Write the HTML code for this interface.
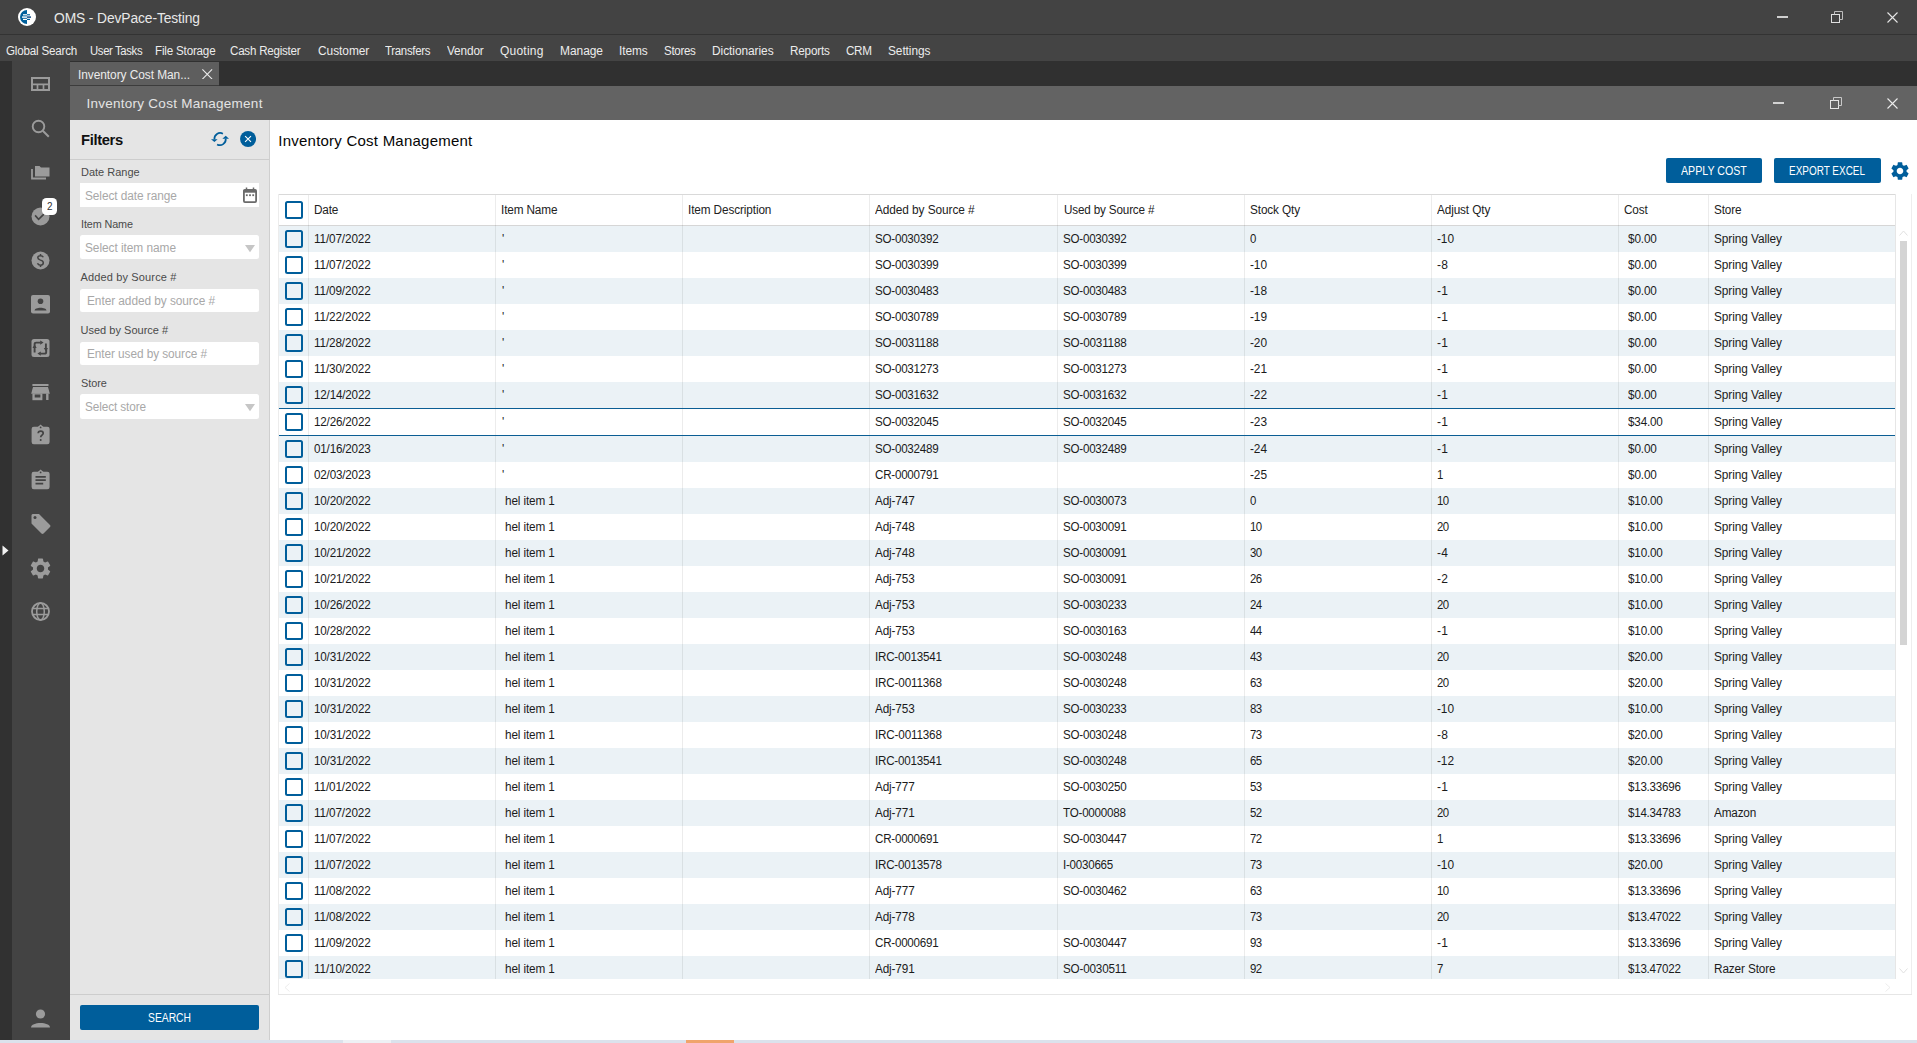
<!DOCTYPE html>
<html><head><meta charset="utf-8"><title>Inventory Cost Management</title>
<style>
html,body{margin:0;padding:0;}
body{width:1917px;height:1043px;position:relative;overflow:hidden;background:#303030;font-family:"Liberation Sans", sans-serif;}
body>div{position:absolute;box-sizing:content-box;}
.t{white-space:nowrap;font-family:"Liberation Sans", sans-serif;}
</style></head><body>
<div style="left:0px;top:0px;width:1917px;height:34px;background:#434343;"></div>
<div style="left:0px;top:34px;width:1917px;height:1px;background:#333333;"></div>
<div style="left:0px;top:35px;width:1917px;height:26px;background:#444444;"></div>
<div style="left:0px;top:61px;width:12px;height:979px;background:#313131;"></div>
<div style="left:12px;top:61px;width:58px;height:979px;background:#434343;"></div>
<div style="left:70px;top:61px;width:1847px;height:25px;background:#303030;"></div>
<div style="left:70px;top:62px;width:149px;height:23px;background:#5e5e5e;"></div>
<div style="left:70px;top:86px;width:1847px;height:34px;background:#636363;"></div>
<div style="left:70px;top:120px;width:199px;height:920px;background:#e5e5e5;"></div>
<div style="left:269px;top:120px;width:1px;height:920px;background:#cfcfcf;"></div>
<div style="left:270px;top:120px;width:1647px;height:920px;background:#ffffff;"></div>
<div style="left:0px;top:1040px;width:1917px;height:3px;background:#dbe2ec;"></div>
<div style="left:343px;top:1040px;width:48px;height:3px;background:#eef1f5;"></div>
<div style="left:686px;top:1040px;width:48px;height:3px;background:#f0a46c;"></div>
<svg style="position:absolute;left:18px;top:8px;" width="18" height="18" viewBox="0 0 18 18"><circle cx="9" cy="9" r="9" fill="#fff"/><path d="M9 2 A7 7 0 0 0 9 16 Z" fill="#00609c"/><rect x="5" y="6.2" width="4" height="1.2" fill="#fff"/><rect x="4" y="8.4" width="5" height="1.4" fill="#fff"/><rect x="5" y="10.8" width="4" height="1.2" fill="#fff"/><rect x="9" y="6.2" width="3" height="1.2" fill="#00609c"/><rect x="9" y="8.4" width="4" height="1.4" fill="#003f7f"/><rect x="9" y="10.8" width="3" height="1.2" fill="#00609c"/></svg>
<div class="t" style="left:54.00px;top:11.15px;font-size:14px;line-height:14px;color:#e8e8e8;letter-spacing:-0.105px;transform:scaleX(0.9862);transform-origin:0 0;">OMS - DevPace-Testing</div>
<div style="left:1777px;top:16px;width:11px;height:2px;background:#cfcfcf;"></div>
<svg style="position:absolute;left:1831px;top:11px;" width="13" height="12" viewBox="0 0 13 12"><rect x="0.5" y="3.5" width="8" height="8" fill="none" stroke="#e0e0e0"/><path d="M3.5 3.5 V0.5 H11.5 V8.5 H8.5" fill="none" stroke="#bdbdbd"/></svg>
<svg style="position:absolute;left:1887px;top:12px;" width="11" height="11" viewBox="0 0 11 11"><path d="M0.5 0.5 L10.5 10.5 M10.5 0.5 L0.5 10.5" stroke="#e6e6e6" stroke-width="1.1"/></svg>
<div class="t" style="left:6.30px;top:44.84px;font-size:12px;line-height:12px;color:#ececec;letter-spacing:-0.204px;transform:scaleX(0.9688);transform-origin:0 0;">Global Search</div>
<div class="t" style="left:90.10px;top:44.84px;font-size:12px;line-height:12px;color:#ececec;letter-spacing:-0.385px;transform:scaleX(0.9446);transform-origin:0 0;">User Tasks</div>
<div class="t" style="left:155.20px;top:44.84px;font-size:12px;line-height:12px;color:#ececec;letter-spacing:-0.192px;transform:scaleX(0.9683);transform-origin:0 0;">File Storage</div>
<div class="t" style="left:230.30px;top:44.84px;font-size:12px;line-height:12px;color:#ececec;letter-spacing:-0.231px;transform:scaleX(0.9648);transform-origin:0 0;">Cash Register</div>
<div class="t" style="left:317.50px;top:44.84px;font-size:12px;line-height:12px;color:#ececec;letter-spacing:-0.050px;transform:scaleX(0.9933);transform-origin:0 0;">Customer</div>
<div class="t" style="left:385.00px;top:44.84px;font-size:12px;line-height:12px;color:#ececec;letter-spacing:-0.305px;transform:scaleX(0.9537);transform-origin:0 0;">Transfers</div>
<div class="t" style="left:447.00px;top:44.84px;font-size:12px;line-height:12px;color:#ececec;letter-spacing:-0.127px;transform:scaleX(0.9836);transform-origin:0 0;">Vendor</div>
<div class="t" style="left:500.00px;top:44.84px;font-size:12px;line-height:12px;color:#ececec;letter-spacing:0.225px;transform:scaleX(1.0000);transform-origin:0 0;">Quoting</div>
<div class="t" style="left:560.20px;top:44.84px;font-size:12px;line-height:12px;color:#ececec;letter-spacing:-0.035px;transform:scaleX(0.9960);transform-origin:0 0;">Manage</div>
<div class="t" style="left:619.00px;top:44.84px;font-size:12px;line-height:12px;color:#ececec;letter-spacing:-0.069px;transform:scaleX(0.9906);transform-origin:0 0;">Items</div>
<div class="t" style="left:664.00px;top:44.84px;font-size:12px;line-height:12px;color:#ececec;letter-spacing:-0.292px;transform:scaleX(0.9597);transform-origin:0 0;">Stores</div>
<div class="t" style="left:712.10px;top:44.84px;font-size:12px;line-height:12px;color:#ececec;letter-spacing:-0.050px;transform:scaleX(0.9912);transform-origin:0 0;">Dictionaries</div>
<div class="t" style="left:790.00px;top:44.84px;font-size:12px;line-height:12px;color:#ececec;letter-spacing:-0.188px;transform:scaleX(0.9738);transform-origin:0 0;">Reports</div>
<div class="t" style="left:846.00px;top:44.84px;font-size:12px;line-height:12px;color:#ececec;letter-spacing:-0.372px;transform:scaleX(0.9735);transform-origin:0 0;">CRM</div>
<div class="t" style="left:887.60px;top:44.84px;font-size:12px;line-height:12px;color:#ececec;letter-spacing:-0.069px;transform:scaleX(0.9890);transform-origin:0 0;">Settings</div>
<div class="t" style="left:78.00px;top:69.04px;font-size:12px;line-height:12px;color:#ececec;letter-spacing:-0.052px;transform:scaleX(0.9910);transform-origin:0 0;">Inventory Cost Man...</div>
<svg style="position:absolute;left:202px;top:68.5px;" width="10.5" height="10.5" viewBox="0 0 10.5 10.5"><path d="M0.4 0.4 L10.1 10.1 M10.1 0.4 L0.4 10.1" stroke="#ececec" stroke-width="1.1"/></svg>
<div style="left:70px;top:85px;width:149px;height:1px;background:#3c3c3c;"></div>
<div class="t" style="left:86.40px;top:97.27px;font-size:13.5px;line-height:13.5px;color:#e4e4e4;letter-spacing:0.267px;transform:scaleX(1.0000);transform-origin:0 0;">Inventory Cost Management</div>
<div style="left:1773px;top:102px;width:11px;height:2px;background:#d2d2d2;"></div>
<svg style="position:absolute;left:1830px;top:97px;" width="12" height="12" viewBox="0 0 12 12"><rect x="0.5" y="3.5" width="8" height="8" fill="none" stroke="#e6e6e6"/><path d="M3.5 3.5 V0.5 H11.5 V8.5 H8.5" fill="none" stroke="#c8c8c8"/></svg>
<svg style="position:absolute;left:1887px;top:98px;" width="11" height="11" viewBox="0 0 11 11"><path d="M0.5 0.5 L10.5 10.5 M10.5 0.5 L0.5 10.5" stroke="#ececec" stroke-width="1.1"/></svg>
<svg style="position:absolute;left:31px;top:77px;" width="19" height="14" viewBox="0 0 19 14"><rect x="1" y="1" width="17" height="12" fill="none" stroke="#9b9b9b" stroke-width="2"/><path d="M1 7.3 H18 M6.5 7.3 V13 M12.5 7.3 V13" stroke="#9b9b9b" stroke-width="1.7"/></svg>
<svg style="position:absolute;left:31px;top:119px;" width="19" height="19" viewBox="0 0 19 19"><circle cx="7.5" cy="7.5" r="5.8" fill="none" stroke="#9b9b9b" stroke-width="1.9"/><path d="M11.8 11.8 L17.8 17.8" stroke="#9b9b9b" stroke-width="2"/></svg>
<svg style="position:absolute;left:31px;top:164px;" width="19" height="16" viewBox="0 0 19 16"><path d="M1 5 V14.5 H15" fill="none" stroke="#9b9b9b" stroke-width="1.8"/><path d="M4 2 H8.5 L10 3.5 H18.5 V12.5 H4 Z" fill="#9b9b9b"/></svg>
<svg style="position:absolute;left:31px;top:207px;" width="19" height="19" viewBox="0 0 19 19"><circle cx="9.5" cy="9.5" r="9" fill="#9b9b9b"/><path d="M4.1 8.4 L7.6 12.3 L12.9 7.1" fill="none" stroke="#434343" stroke-width="1.6"/></svg>
<div style="left:42px;top:198px;width:15px;height:17px;background:#fff;border-radius:4.5px;"></div>
<div class="t" style="left:46.50px;top:201.53px;font-size:10px;line-height:10px;color:#333;letter-spacing:0.000px;transform:scaleX(0.9955);transform-origin:0 0;">2</div>
<svg style="position:absolute;left:31px;top:251px;" width="19" height="19" viewBox="0 0 19 19"><circle cx="9.5" cy="9.5" r="9" fill="#9b9b9b"/><path d="M12.3 6.3 C11.8 5.2 10.8 4.7 9.5 4.7 C7.8 4.7 6.8 5.6 6.8 6.8 C6.8 8.2 8 8.6 9.5 9.1 C11.2 9.6 12.3 10.2 12.3 11.8 C12.3 13.2 11.1 14.2 9.5 14.2 C8 14.2 6.9 13.5 6.5 12.3 M9.5 3 V4.7 M9.5 14.2 V16" fill="none" stroke="#434343" stroke-width="1.5"/></svg>
<svg style="position:absolute;left:31px;top:295px;" width="19" height="19" viewBox="0 0 19 19"><rect x="0" y="0" width="19" height="18.5" rx="2" fill="#9b9b9b"/><circle cx="9.5" cy="6.3" r="2.8" fill="#434343"/><path d="M3.5 15.5 C3.8 11.8 15.2 11.8 15.5 15.5 Z" fill="#434343"/></svg>
<svg style="position:absolute;left:31px;top:339px;" width="19" height="18" viewBox="0 0 19 18"><rect x="0.5" y="0" width="18" height="18" rx="2.5" fill="#9b9b9b"/><path d="M3.6 8.6 V5.3 Q3.6 3.6 5.3 3.6 H9.6 M14.9 4.6 V9.4 M15.2 9.9 V12.9 Q15.2 14.6 13.5 14.6 H9.4 M3.6 13.4 V9" fill="none" stroke="#434343" stroke-width="1.9"/><path d="M9.2 1.5 L12.6 3.6 L9.2 5.7 Z M12.8 9.1 L14.9 12.4 L17 9.1 Z M9.8 12.5 L6.4 14.6 L9.8 16.7 Z M1.5 8.9 L3.6 5.6 L5.7 8.9 Z" fill="#434343"/></svg>
<svg style="position:absolute;left:31px;top:383px;" width="19" height="18" viewBox="0 0 19 18"><rect x="1.4" y="1" width="16.1" height="2" fill="#9b9b9b"/><path d="M2 4 H17 L18.8 10.8 H0.2 Z" fill="#9b9b9b"/><rect x="1.4" y="10.5" width="10" height="6.7" fill="#9b9b9b"/><rect x="3.7" y="11.5" width="5.7" height="3" fill="#434343"/><rect x="15.1" y="10.5" width="2.4" height="6.5" fill="#9b9b9b"/></svg>
<svg style="position:absolute;left:31px;top:424px;" width="19" height="21" viewBox="0 0 19 21"><rect x="0.6" y="2.8" width="18" height="17.5" rx="2.2" fill="#9b9b9b"/><path d="M6.5 3.2 L9.6 0.6 L12.7 3.2 Z" fill="#9b9b9b"/><circle cx="9.6" cy="3.4" r="0.9" fill="#434343"/><path d="M7.2 9.2 C7.2 6.4 12.2 6.4 12.2 9.2 C12.2 11 9.7 11.2 9.7 13.2" fill="none" stroke="#434343" stroke-width="1.7"/><circle cx="9.7" cy="15.9" r="1" fill="#434343"/></svg>
<svg style="position:absolute;left:31px;top:469px;" width="19" height="21" viewBox="0 0 19 21"><rect x="0.6" y="2.8" width="18" height="17.5" rx="2.2" fill="#9b9b9b"/><path d="M6.5 3.2 L9.6 0.6 L12.7 3.2 Z" fill="#9b9b9b"/><circle cx="9.6" cy="3.4" r="0.9" fill="#434343"/><path d="M4.5 7.8 H14.8 M4.5 11.2 H14.8 M4.5 14.6 H12.2" stroke="#434343" stroke-width="1.8"/></svg>
<svg style="position:absolute;left:30px;top:513px;" width="21" height="22" viewBox="0 0 21 22"><path d="M1.5 2.5 C1.5 1.5 2.3 1 3.2 1 H9 L20 12 C20.6 12.6 20.6 13.4 20 14 L13.5 20.5 C12.9 21.1 12.1 21.1 11.5 20.5 L1.5 10.5 Z" fill="#9b9b9b"/><circle cx="5" cy="4.5" r="1.5" fill="#434343"/></svg>
<svg style="position:absolute;left:28.1px;top:555.5px;" width="25" height="25" viewBox="0 0 24 24"><path d="M19.14 12.94c.04-.3.06-.61.06-.94 0-.32-.02-.64-.07-.94l2.03-1.58a.49.49 0 0 0 .12-.61l-1.92-3.32a.488.488 0 0 0-.59-.22l-2.39.96c-.5-.38-1.03-.7-1.62-.94l-.36-2.54a.484.484 0 0 0-.48-.41h-3.84c-.24 0-.43.17-.47.41l-.36 2.54c-.59.24-1.13.57-1.62.94l-2.39-.96c-.22-.08-.47 0-.59.22L2.74 8.87c-.12.21-.08.47.12.61l2.03 1.58c-.05.3-.09.63-.09.94s.02.64.07.94l-2.03 1.58a.49.49 0 0 0-.12.61l1.92 3.32c.12.22.37.29.59.22l2.39-.96c.5.38 1.03.7 1.62.94l.36 2.54c.05.24.24.41.48.41h3.84c.24 0 .44-.17.47-.41l.36-2.54c.59-.24 1.13-.56 1.62-.94l2.39.96c.22.08.47 0 .59-.22l1.92-3.32c.12-.22.07-.47-.12-.61l-2.01-1.58zM12 15.6c-1.98 0-3.6-1.62-3.6-3.6s1.62-3.6 3.6-3.6 3.6 1.62 3.6 3.6-1.62 3.6-3.6 3.6z" fill="#9b9b9b"/></svg>
<svg style="position:absolute;left:31px;top:602px;" width="19" height="19" viewBox="0 0 19 19"><circle cx="9.5" cy="9.5" r="8.5" fill="none" stroke="#9b9b9b" stroke-width="1.8"/><ellipse cx="9.5" cy="9.5" rx="3.8" ry="8.5" fill="none" stroke="#9b9b9b" stroke-width="1.5"/><path d="M1.5 6.5 H17.5 M1.5 12.5 H17.5" stroke="#9b9b9b" stroke-width="1.5"/></svg>
<svg style="position:absolute;left:2px;top:545px;" width="7" height="11" viewBox="0 0 7 11"><path d="M0.5 0.5 L6.5 5.5 L0.5 10.5 Z" fill="#f2f2f2"/></svg>
<svg style="position:absolute;left:31px;top:1009px;" width="19" height="19" viewBox="0 0 19 19"><circle cx="9.5" cy="5" r="4.6" fill="#9b9b9b"/><path d="M0 18.5 C0 12.5 19 12.5 19 18.5 Z" fill="#9b9b9b"/></svg>
<div class="t" style="left:80.70px;top:132.08px;font-size:15.5px;line-height:15.5px;color:#111111;letter-spacing:-0.376px;font-weight:bold;transform:scaleX(0.9538);transform-origin:0 0;">Filters</div>
<svg style="position:absolute;left:206px;top:126px;" width="26" height="26" viewBox="0 0 26 26"><path d="M16.9 7.7 A5.8 5.8 0 0 0 8.4 13.3" fill="none" stroke="#005e9b" stroke-width="1.7"/><path d="M5.0 13.2 H11.6 L8.4 16.1 Z" fill="#005e9b"/><path d="M11.1 18.4 A5.8 5.8 0 0 0 19.7 12.6" fill="none" stroke="#005e9b" stroke-width="1.7"/><path d="M16.4 12.7 H23 L19.7 9.8 Z" fill="#005e9b"/></svg>
<svg style="position:absolute;left:240px;top:131px;" width="16" height="16" viewBox="0 0 16 16"><circle cx="8.07" cy="8" r="8" fill="#005e9b"/><path d="M5.1 5.2 L11 10.9 M11 5.2 L5.1 10.9" stroke="#fff" stroke-width="1.1"/></svg>
<div style="left:70px;top:159px;width:199px;height:1px;background:#cdcdcd;"></div>
<div style="left:80px;top:183px;width:179px;height:24px;background:#fff;border-radius:0px;"></div>
<div class="t" style="left:80.50px;top:166.59px;font-size:11px;line-height:11px;color:#4a4a4a;letter-spacing:-0.006px;transform:scaleX(0.9991);transform-origin:0 0;">Date Range</div>
<div class="t" style="left:85.00px;top:189.84px;font-size:12px;line-height:12px;color:#a8a8a8;letter-spacing:-0.071px;transform:scaleX(0.9880);transform-origin:0 0;">Select date range</div>
<svg style="position:absolute;left:243px;top:187px;" width="14" height="16" viewBox="0 0 14 16"><rect x="0.9" y="2.9" width="12.2" height="12.2" rx="1" fill="none" stroke="#6a6a6a" stroke-width="1.8"/><rect x="0.9" y="2.9" width="12.2" height="2.8" fill="#6a6a6a"/><path d="M3.5 0.5 V3 M10.5 0.5 V3" stroke="#6a6a6a" stroke-width="1.5"/><rect x="2.9" y="7.3" width="1.8" height="1.8" fill="#6a6a6a"/><rect x="6.1" y="7.3" width="1.8" height="1.8" fill="#6a6a6a"/><rect x="9.3" y="7.3" width="1.8" height="1.8" fill="#6a6a6a"/></svg>
<div style="left:80px;top:235px;width:179px;height:24px;background:#fff;border-radius:2.5px;"></div>
<div class="t" style="left:80.50px;top:218.59px;font-size:11px;line-height:11px;color:#4a4a4a;letter-spacing:-0.114px;transform:scaleX(0.9833);transform-origin:0 0;">Item Name</div>
<div class="t" style="left:85.00px;top:241.84px;font-size:12px;line-height:12px;color:#a8a8a8;letter-spacing:-0.057px;transform:scaleX(0.9908);transform-origin:0 0;">Select item name</div>
<svg style="position:absolute;left:245px;top:244.8px;" width="10" height="8" viewBox="0 0 10 8"><path d="M0 0 H10 L5 7.3 Z" fill="#c6c6c6"/></svg>
<div style="left:80px;top:289px;width:179px;height:23px;background:#fff;border-radius:2.5px;"></div>
<div class="t" style="left:80.50px;top:271.89px;font-size:11px;line-height:11px;color:#4a4a4a;letter-spacing:0.147px;transform:scaleX(1.0000);transform-origin:0 0;">Added by Source #</div>
<div class="t" style="left:86.70px;top:294.84px;font-size:12px;line-height:12px;color:#a8a8a8;letter-spacing:-0.063px;transform:scaleX(0.9895);transform-origin:0 0;">Enter added by source #</div>
<div style="left:80px;top:342px;width:179px;height:23px;background:#fff;border-radius:2.5px;"></div>
<div class="t" style="left:80.50px;top:324.79px;font-size:11px;line-height:11px;color:#4a4a4a;letter-spacing:0.017px;transform:scaleX(1.0000);transform-origin:0 0;">Used by Source #</div>
<div class="t" style="left:86.70px;top:347.84px;font-size:12px;line-height:12px;color:#a8a8a8;letter-spacing:-0.080px;transform:scaleX(0.9866);transform-origin:0 0;">Enter used by source #</div>
<div style="left:80px;top:394px;width:179px;height:25px;background:#fff;border-radius:2.5px;"></div>
<div class="t" style="left:80.50px;top:377.79px;font-size:11px;line-height:11px;color:#4a4a4a;letter-spacing:-0.063px;transform:scaleX(0.9905);transform-origin:0 0;">Store</div>
<div class="t" style="left:85.00px;top:400.84px;font-size:12px;line-height:12px;color:#a8a8a8;letter-spacing:-0.104px;transform:scaleX(0.9822);transform-origin:0 0;">Select store</div>
<svg style="position:absolute;left:245px;top:404.3px;" width="10" height="8" viewBox="0 0 10 8"><path d="M0 0 H10 L5 7.3 Z" fill="#c6c6c6"/></svg>
<div style="left:70px;top:994px;width:199px;height:1px;background:#cdcdcd;"></div>
<div style="left:80px;top:1005px;width:179px;height:25px;background:#005e9b;border-radius:2px;"></div>
<div class="t" style="left:148.30px;top:1011.52px;font-size:12.5px;line-height:12.5px;color:#ffffff;letter-spacing:0.000px;transform:scaleX(0.8253);transform-origin:0 0;">SEARCH</div>
<div class="t" style="left:278.30px;top:133.10px;font-size:15px;line-height:15px;color:#050505;letter-spacing:0.231px;transform:scaleX(1.0000);transform-origin:0 0;">Inventory Cost Management</div>
<div style="left:1666px;top:158px;width:96px;height:25px;background:#005e9b;border-radius:2px;"></div>
<div class="t" style="left:1681.40px;top:164.94px;font-size:12px;line-height:12px;color:#ffffff;letter-spacing:0.000px;transform:scaleX(0.8862);transform-origin:0 0;">APPLY COST</div>
<div style="left:1774px;top:158px;width:107px;height:25px;background:#005e9b;border-radius:2px;"></div>
<div class="t" style="left:1789.40px;top:164.94px;font-size:12px;line-height:12px;color:#ffffff;letter-spacing:0.000px;transform:scaleX(0.8297);transform-origin:0 0;">EXPORT EXCEL</div>
<svg style="position:absolute;left:1889.0px;top:160.0px;" width="22" height="22" viewBox="0 0 24 24"><path d="M19.14 12.94c.04-.3.06-.61.06-.94 0-.32-.02-.64-.07-.94l2.03-1.58a.49.49 0 0 0 .12-.61l-1.92-3.32a.488.488 0 0 0-.59-.22l-2.39.96c-.5-.38-1.03-.7-1.62-.94l-.36-2.54a.484.484 0 0 0-.48-.41h-3.84c-.24 0-.43.17-.47.41l-.36 2.54c-.59.24-1.130.57-1.62.94l-2.39-.96c-.22-.08-.47 0-.59.22L2.74 8.87c-.12.21-.08.47.12.61l2.03 1.58c-.05.3-.09.63-.09.94s.02.64.07.94l-2.03 1.58a.49.49 0 0 0-.12.61l1.92 3.32c.12.22.37.29.59.22l2.39-.96c.5.38 1.03.7 1.62.94l.36 2.54c.05.24.24.41.48.41h3.84c.24 0 .44-.17.47-.41l.36-2.54c.59-.24 1.13-.56 1.62-.94l2.39.96c.22.08.47 0 .59-.22l1.92-3.32c.12-.22.07-.47-.12-.61l-2.01-1.58zM12 15.6c-1.98 0-3.6-1.62-3.6-3.6s1.62-3.6 3.6-3.6 3.6 1.62 3.6 3.6-1.62 3.6-3.6 3.6z" fill="#005e9b"/></svg>
<div style="left:279px;top:226px;width:1616px;height:26px;background:#ebf2f6;"></div>
<div style="left:279px;top:252px;width:1616px;height:26px;background:#ffffff;"></div>
<div style="left:279px;top:278px;width:1616px;height:26px;background:#ebf2f6;"></div>
<div style="left:279px;top:304px;width:1616px;height:26px;background:#ffffff;"></div>
<div style="left:279px;top:330px;width:1616px;height:26px;background:#ebf2f6;"></div>
<div style="left:279px;top:356px;width:1616px;height:26px;background:#ffffff;"></div>
<div style="left:279px;top:382px;width:1616px;height:26px;background:#ebf2f6;"></div>
<div style="left:279px;top:409px;width:1616px;height:26px;background:#ffffff;"></div>
<div style="left:279px;top:436px;width:1616px;height:26px;background:#ebf2f6;"></div>
<div style="left:279px;top:462px;width:1616px;height:26px;background:#ffffff;"></div>
<div style="left:279px;top:488px;width:1616px;height:26px;background:#ebf2f6;"></div>
<div style="left:279px;top:514px;width:1616px;height:26px;background:#ffffff;"></div>
<div style="left:279px;top:540px;width:1616px;height:26px;background:#ebf2f6;"></div>
<div style="left:279px;top:566px;width:1616px;height:26px;background:#ffffff;"></div>
<div style="left:279px;top:592px;width:1616px;height:26px;background:#ebf2f6;"></div>
<div style="left:279px;top:618px;width:1616px;height:26px;background:#ffffff;"></div>
<div style="left:279px;top:644px;width:1616px;height:26px;background:#ebf2f6;"></div>
<div style="left:279px;top:670px;width:1616px;height:26px;background:#ffffff;"></div>
<div style="left:279px;top:696px;width:1616px;height:26px;background:#ebf2f6;"></div>
<div style="left:279px;top:722px;width:1616px;height:26px;background:#ffffff;"></div>
<div style="left:279px;top:748px;width:1616px;height:26px;background:#ebf2f6;"></div>
<div style="left:279px;top:774px;width:1616px;height:26px;background:#ffffff;"></div>
<div style="left:279px;top:800px;width:1616px;height:26px;background:#ebf2f6;"></div>
<div style="left:279px;top:826px;width:1616px;height:26px;background:#ffffff;"></div>
<div style="left:279px;top:852px;width:1616px;height:26px;background:#ebf2f6;"></div>
<div style="left:279px;top:878px;width:1616px;height:26px;background:#ffffff;"></div>
<div style="left:279px;top:904px;width:1616px;height:26px;background:#ebf2f6;"></div>
<div style="left:279px;top:930px;width:1616px;height:26px;background:#ffffff;"></div>
<div style="left:279px;top:956px;width:1616px;height:23px;background:#ebf2f6;"></div>
<div style="left:278px;top:194px;width:1617px;height:1px;background:#d9d9d9;"></div>
<div style="left:278px;top:194px;width:1px;height:800px;background:#ececec;"></div>
<div style="left:1895px;top:194px;width:1px;height:785px;background:#e6e6e6;"></div>
<div style="left:1911px;top:194px;width:1px;height:800px;background:#eeeeee;"></div>
<div style="left:278px;top:994px;width:1634px;height:1px;background:#e6e6e6;"></div>
<div style="left:279px;top:225px;width:1616px;height:1px;background:#d6d6d6;"></div>
<div style="left:308px;top:195px;width:1px;height:784px;background:rgba(0,0,0,0.075);"></div>
<div style="left:495px;top:195px;width:1px;height:784px;background:rgba(0,0,0,0.075);"></div>
<div style="left:682px;top:195px;width:1px;height:784px;background:rgba(0,0,0,0.075);"></div>
<div style="left:869px;top:195px;width:1px;height:784px;background:rgba(0,0,0,0.075);"></div>
<div style="left:1057px;top:195px;width:1px;height:784px;background:rgba(0,0,0,0.075);"></div>
<div style="left:1244px;top:195px;width:1px;height:784px;background:rgba(0,0,0,0.075);"></div>
<div style="left:1431px;top:195px;width:1px;height:784px;background:rgba(0,0,0,0.075);"></div>
<div style="left:1618px;top:195px;width:1px;height:784px;background:rgba(0,0,0,0.075);"></div>
<div style="left:1708px;top:195px;width:1px;height:784px;background:rgba(0,0,0,0.075);"></div>
<div style="left:279px;top:408px;width:1616px;height:1px;background:#0b5e94;"></div>
<div style="left:279px;top:435px;width:1616px;height:1px;background:#0b5e94;"></div>
<div class="t" style="left:314.00px;top:204.24px;font-size:12px;line-height:12px;color:#222222;letter-spacing:-0.172px;transform:scaleX(0.9800);transform-origin:0 0;">Date</div>
<div class="t" style="left:501.00px;top:204.24px;font-size:12px;line-height:12px;color:#222222;letter-spacing:-0.141px;transform:scaleX(0.9811);transform-origin:0 0;">Item Name</div>
<div class="t" style="left:688.00px;top:204.24px;font-size:12px;line-height:12px;color:#222222;letter-spacing:-0.113px;transform:scaleX(0.9808);transform-origin:0 0;">Item Description</div>
<div class="t" style="left:875.20px;top:204.24px;font-size:12px;line-height:12px;color:#222222;letter-spacing:-0.079px;transform:scaleX(0.9878);transform-origin:0 0;">Added by Source #</div>
<div class="t" style="left:1063.50px;top:204.24px;font-size:12px;line-height:12px;color:#222222;letter-spacing:-0.168px;transform:scaleX(0.9743);transform-origin:0 0;">Used by Source #</div>
<div class="t" style="left:1250.00px;top:204.24px;font-size:12px;line-height:12px;color:#222222;letter-spacing:-0.124px;transform:scaleX(0.9813);transform-origin:0 0;">Stock Qty</div>
<div class="t" style="left:1437.00px;top:204.24px;font-size:12px;line-height:12px;color:#222222;letter-spacing:-0.118px;transform:scaleX(0.9812);transform-origin:0 0;">Adjust Qty</div>
<div class="t" style="left:1624.00px;top:204.24px;font-size:12px;line-height:12px;color:#222222;letter-spacing:-0.168px;transform:scaleX(0.9800);transform-origin:0 0;">Cost</div>
<div class="t" style="left:1714.00px;top:204.24px;font-size:12px;line-height:12px;color:#222222;letter-spacing:-0.146px;transform:scaleX(0.9800);transform-origin:0 0;">Store</div>
<div style="left:285px;top:201px;width:14px;height:14px;border:2px solid #005e9b;border-radius:2.5px;"></div>
<div style="left:285px;top:230px;width:14px;height:14px;border:2px solid #005e9b;border-radius:2.5px;"></div>
<div class="t" style="left:314.00px;top:232.84px;font-size:12px;line-height:12px;color:#1b1b1b;letter-spacing:-0.139px;transform:scaleX(0.9793);transform-origin:0 0;">11/07/2022</div>
<div class="t" style="left:502.00px;top:232.84px;font-size:12px;line-height:12px;color:#1b1b1b;letter-spacing:0.000px;transform:scaleX(0.9800);transform-origin:0 0;">&#x27;</div>
<div class="t" style="left:875.00px;top:232.84px;font-size:12px;line-height:12px;color:#1b1b1b;letter-spacing:-0.251px;transform:scaleX(0.9679);transform-origin:0 0;">SO-0030392</div>
<div class="t" style="left:1063.00px;top:232.84px;font-size:12px;line-height:12px;color:#1b1b1b;letter-spacing:-0.251px;transform:scaleX(0.9679);transform-origin:0 0;">SO-0030392</div>
<div class="t" style="left:1250.00px;top:232.84px;font-size:12px;line-height:12px;color:#1b1b1b;letter-spacing:0.000px;transform:scaleX(0.9500);transform-origin:0 0;">0</div>
<div class="t" style="left:1437.00px;top:232.84px;font-size:12px;line-height:12px;color:#1b1b1b;letter-spacing:-0.085px;transform:scaleX(0.9903);transform-origin:0 0;">-10</div>
<div class="t" style="left:1627.80px;top:232.84px;font-size:12px;line-height:12px;color:#1b1b1b;letter-spacing:-0.153px;transform:scaleX(0.9800);transform-origin:0 0;">$0.00</div>
<div class="t" style="left:1714.00px;top:232.84px;font-size:12px;line-height:12px;color:#1b1b1b;letter-spacing:-0.076px;transform:scaleX(0.9871);transform-origin:0 0;">Spring Valley</div>
<div style="left:285px;top:256px;width:14px;height:14px;border:2px solid #005e9b;border-radius:2.5px;"></div>
<div class="t" style="left:314.00px;top:258.84px;font-size:12px;line-height:12px;color:#1b1b1b;letter-spacing:-0.139px;transform:scaleX(0.9793);transform-origin:0 0;">11/07/2022</div>
<div class="t" style="left:502.00px;top:258.84px;font-size:12px;line-height:12px;color:#1b1b1b;letter-spacing:0.000px;transform:scaleX(0.9800);transform-origin:0 0;">&#x27;</div>
<div class="t" style="left:875.00px;top:258.84px;font-size:12px;line-height:12px;color:#1b1b1b;letter-spacing:-0.251px;transform:scaleX(0.9679);transform-origin:0 0;">SO-0030399</div>
<div class="t" style="left:1063.00px;top:258.84px;font-size:12px;line-height:12px;color:#1b1b1b;letter-spacing:-0.251px;transform:scaleX(0.9679);transform-origin:0 0;">SO-0030399</div>
<div class="t" style="left:1250.00px;top:258.84px;font-size:12px;line-height:12px;color:#1b1b1b;letter-spacing:-0.085px;transform:scaleX(0.9903);transform-origin:0 0;">-10</div>
<div class="t" style="left:1437.00px;top:258.84px;font-size:12px;line-height:12px;color:#1b1b1b;letter-spacing:0.331px;transform:scaleX(1.0000);transform-origin:0 0;">-8</div>
<div class="t" style="left:1627.80px;top:258.84px;font-size:12px;line-height:12px;color:#1b1b1b;letter-spacing:-0.153px;transform:scaleX(0.9800);transform-origin:0 0;">$0.00</div>
<div class="t" style="left:1714.00px;top:258.84px;font-size:12px;line-height:12px;color:#1b1b1b;letter-spacing:-0.076px;transform:scaleX(0.9871);transform-origin:0 0;">Spring Valley</div>
<div style="left:285px;top:282px;width:14px;height:14px;border:2px solid #005e9b;border-radius:2.5px;"></div>
<div class="t" style="left:314.00px;top:284.84px;font-size:12px;line-height:12px;color:#1b1b1b;letter-spacing:-0.139px;transform:scaleX(0.9793);transform-origin:0 0;">11/09/2022</div>
<div class="t" style="left:502.00px;top:284.84px;font-size:12px;line-height:12px;color:#1b1b1b;letter-spacing:0.000px;transform:scaleX(0.9800);transform-origin:0 0;">&#x27;</div>
<div class="t" style="left:875.00px;top:284.84px;font-size:12px;line-height:12px;color:#1b1b1b;letter-spacing:-0.251px;transform:scaleX(0.9679);transform-origin:0 0;">SO-0030483</div>
<div class="t" style="left:1063.00px;top:284.84px;font-size:12px;line-height:12px;color:#1b1b1b;letter-spacing:-0.251px;transform:scaleX(0.9679);transform-origin:0 0;">SO-0030483</div>
<div class="t" style="left:1250.00px;top:284.84px;font-size:12px;line-height:12px;color:#1b1b1b;letter-spacing:-0.085px;transform:scaleX(0.9903);transform-origin:0 0;">-18</div>
<div class="t" style="left:1437.00px;top:284.84px;font-size:12px;line-height:12px;color:#1b1b1b;letter-spacing:0.331px;transform:scaleX(1.0000);transform-origin:0 0;">-1</div>
<div class="t" style="left:1627.80px;top:284.84px;font-size:12px;line-height:12px;color:#1b1b1b;letter-spacing:-0.153px;transform:scaleX(0.9800);transform-origin:0 0;">$0.00</div>
<div class="t" style="left:1714.00px;top:284.84px;font-size:12px;line-height:12px;color:#1b1b1b;letter-spacing:-0.076px;transform:scaleX(0.9871);transform-origin:0 0;">Spring Valley</div>
<div style="left:285px;top:308px;width:14px;height:14px;border:2px solid #005e9b;border-radius:2.5px;"></div>
<div class="t" style="left:314.00px;top:310.84px;font-size:12px;line-height:12px;color:#1b1b1b;letter-spacing:-0.139px;transform:scaleX(0.9793);transform-origin:0 0;">11/22/2022</div>
<div class="t" style="left:502.00px;top:310.84px;font-size:12px;line-height:12px;color:#1b1b1b;letter-spacing:0.000px;transform:scaleX(0.9800);transform-origin:0 0;">&#x27;</div>
<div class="t" style="left:875.00px;top:310.84px;font-size:12px;line-height:12px;color:#1b1b1b;letter-spacing:-0.251px;transform:scaleX(0.9679);transform-origin:0 0;">SO-0030789</div>
<div class="t" style="left:1063.00px;top:310.84px;font-size:12px;line-height:12px;color:#1b1b1b;letter-spacing:-0.251px;transform:scaleX(0.9679);transform-origin:0 0;">SO-0030789</div>
<div class="t" style="left:1250.00px;top:310.84px;font-size:12px;line-height:12px;color:#1b1b1b;letter-spacing:-0.085px;transform:scaleX(0.9903);transform-origin:0 0;">-19</div>
<div class="t" style="left:1437.00px;top:310.84px;font-size:12px;line-height:12px;color:#1b1b1b;letter-spacing:0.331px;transform:scaleX(1.0000);transform-origin:0 0;">-1</div>
<div class="t" style="left:1627.80px;top:310.84px;font-size:12px;line-height:12px;color:#1b1b1b;letter-spacing:-0.153px;transform:scaleX(0.9800);transform-origin:0 0;">$0.00</div>
<div class="t" style="left:1714.00px;top:310.84px;font-size:12px;line-height:12px;color:#1b1b1b;letter-spacing:-0.076px;transform:scaleX(0.9871);transform-origin:0 0;">Spring Valley</div>
<div style="left:285px;top:334px;width:14px;height:14px;border:2px solid #005e9b;border-radius:2.5px;"></div>
<div class="t" style="left:314.00px;top:336.84px;font-size:12px;line-height:12px;color:#1b1b1b;letter-spacing:-0.139px;transform:scaleX(0.9793);transform-origin:0 0;">11/28/2022</div>
<div class="t" style="left:502.00px;top:336.84px;font-size:12px;line-height:12px;color:#1b1b1b;letter-spacing:0.000px;transform:scaleX(0.9800);transform-origin:0 0;">&#x27;</div>
<div class="t" style="left:875.00px;top:336.84px;font-size:12px;line-height:12px;color:#1b1b1b;letter-spacing:-0.198px;transform:scaleX(0.9741);transform-origin:0 0;">SO-0031188</div>
<div class="t" style="left:1063.00px;top:336.84px;font-size:12px;line-height:12px;color:#1b1b1b;letter-spacing:-0.198px;transform:scaleX(0.9741);transform-origin:0 0;">SO-0031188</div>
<div class="t" style="left:1250.00px;top:336.84px;font-size:12px;line-height:12px;color:#1b1b1b;letter-spacing:-0.085px;transform:scaleX(0.9903);transform-origin:0 0;">-20</div>
<div class="t" style="left:1437.00px;top:336.84px;font-size:12px;line-height:12px;color:#1b1b1b;letter-spacing:0.331px;transform:scaleX(1.0000);transform-origin:0 0;">-1</div>
<div class="t" style="left:1627.80px;top:336.84px;font-size:12px;line-height:12px;color:#1b1b1b;letter-spacing:-0.153px;transform:scaleX(0.9800);transform-origin:0 0;">$0.00</div>
<div class="t" style="left:1714.00px;top:336.84px;font-size:12px;line-height:12px;color:#1b1b1b;letter-spacing:-0.076px;transform:scaleX(0.9871);transform-origin:0 0;">Spring Valley</div>
<div style="left:285px;top:360px;width:14px;height:14px;border:2px solid #005e9b;border-radius:2.5px;"></div>
<div class="t" style="left:314.00px;top:362.84px;font-size:12px;line-height:12px;color:#1b1b1b;letter-spacing:-0.139px;transform:scaleX(0.9793);transform-origin:0 0;">11/30/2022</div>
<div class="t" style="left:502.00px;top:362.84px;font-size:12px;line-height:12px;color:#1b1b1b;letter-spacing:0.000px;transform:scaleX(0.9800);transform-origin:0 0;">&#x27;</div>
<div class="t" style="left:875.00px;top:362.84px;font-size:12px;line-height:12px;color:#1b1b1b;letter-spacing:-0.251px;transform:scaleX(0.9679);transform-origin:0 0;">SO-0031273</div>
<div class="t" style="left:1063.00px;top:362.84px;font-size:12px;line-height:12px;color:#1b1b1b;letter-spacing:-0.251px;transform:scaleX(0.9679);transform-origin:0 0;">SO-0031273</div>
<div class="t" style="left:1250.00px;top:362.84px;font-size:12px;line-height:12px;color:#1b1b1b;letter-spacing:-0.085px;transform:scaleX(0.9903);transform-origin:0 0;">-21</div>
<div class="t" style="left:1437.00px;top:362.84px;font-size:12px;line-height:12px;color:#1b1b1b;letter-spacing:0.331px;transform:scaleX(1.0000);transform-origin:0 0;">-1</div>
<div class="t" style="left:1627.80px;top:362.84px;font-size:12px;line-height:12px;color:#1b1b1b;letter-spacing:-0.153px;transform:scaleX(0.9800);transform-origin:0 0;">$0.00</div>
<div class="t" style="left:1714.00px;top:362.84px;font-size:12px;line-height:12px;color:#1b1b1b;letter-spacing:-0.076px;transform:scaleX(0.9871);transform-origin:0 0;">Spring Valley</div>
<div style="left:285px;top:386px;width:14px;height:14px;border:2px solid #005e9b;border-radius:2.5px;"></div>
<div class="t" style="left:314.00px;top:388.84px;font-size:12px;line-height:12px;color:#1b1b1b;letter-spacing:-0.191px;transform:scaleX(0.9722);transform-origin:0 0;">12/14/2022</div>
<div class="t" style="left:502.00px;top:388.84px;font-size:12px;line-height:12px;color:#1b1b1b;letter-spacing:0.000px;transform:scaleX(0.9800);transform-origin:0 0;">&#x27;</div>
<div class="t" style="left:875.00px;top:388.84px;font-size:12px;line-height:12px;color:#1b1b1b;letter-spacing:-0.251px;transform:scaleX(0.9679);transform-origin:0 0;">SO-0031632</div>
<div class="t" style="left:1063.00px;top:388.84px;font-size:12px;line-height:12px;color:#1b1b1b;letter-spacing:-0.251px;transform:scaleX(0.9679);transform-origin:0 0;">SO-0031632</div>
<div class="t" style="left:1250.00px;top:388.84px;font-size:12px;line-height:12px;color:#1b1b1b;letter-spacing:-0.085px;transform:scaleX(0.9903);transform-origin:0 0;">-22</div>
<div class="t" style="left:1437.00px;top:388.84px;font-size:12px;line-height:12px;color:#1b1b1b;letter-spacing:0.331px;transform:scaleX(1.0000);transform-origin:0 0;">-1</div>
<div class="t" style="left:1627.80px;top:388.84px;font-size:12px;line-height:12px;color:#1b1b1b;letter-spacing:-0.153px;transform:scaleX(0.9800);transform-origin:0 0;">$0.00</div>
<div class="t" style="left:1714.00px;top:388.84px;font-size:12px;line-height:12px;color:#1b1b1b;letter-spacing:-0.076px;transform:scaleX(0.9871);transform-origin:0 0;">Spring Valley</div>
<div style="left:285px;top:413px;width:14px;height:14px;border:2px solid #005e9b;border-radius:2.5px;"></div>
<div class="t" style="left:314.00px;top:415.84px;font-size:12px;line-height:12px;color:#1b1b1b;letter-spacing:-0.191px;transform:scaleX(0.9722);transform-origin:0 0;">12/26/2022</div>
<div class="t" style="left:502.00px;top:415.84px;font-size:12px;line-height:12px;color:#1b1b1b;letter-spacing:0.000px;transform:scaleX(0.9800);transform-origin:0 0;">&#x27;</div>
<div class="t" style="left:875.00px;top:415.84px;font-size:12px;line-height:12px;color:#1b1b1b;letter-spacing:-0.251px;transform:scaleX(0.9679);transform-origin:0 0;">SO-0032045</div>
<div class="t" style="left:1063.00px;top:415.84px;font-size:12px;line-height:12px;color:#1b1b1b;letter-spacing:-0.251px;transform:scaleX(0.9679);transform-origin:0 0;">SO-0032045</div>
<div class="t" style="left:1250.00px;top:415.84px;font-size:12px;line-height:12px;color:#1b1b1b;letter-spacing:-0.085px;transform:scaleX(0.9903);transform-origin:0 0;">-23</div>
<div class="t" style="left:1437.00px;top:415.84px;font-size:12px;line-height:12px;color:#1b1b1b;letter-spacing:0.331px;transform:scaleX(1.0000);transform-origin:0 0;">-1</div>
<div class="t" style="left:1627.80px;top:415.84px;font-size:12px;line-height:12px;color:#1b1b1b;letter-spacing:-0.192px;transform:scaleX(0.9745);transform-origin:0 0;">$34.00</div>
<div class="t" style="left:1714.00px;top:415.84px;font-size:12px;line-height:12px;color:#1b1b1b;letter-spacing:-0.076px;transform:scaleX(0.9871);transform-origin:0 0;">Spring Valley</div>
<div style="left:285px;top:440px;width:14px;height:14px;border:2px solid #005e9b;border-radius:2.5px;"></div>
<div class="t" style="left:314.00px;top:442.84px;font-size:12px;line-height:12px;color:#1b1b1b;letter-spacing:-0.191px;transform:scaleX(0.9722);transform-origin:0 0;">01/16/2023</div>
<div class="t" style="left:502.00px;top:442.84px;font-size:12px;line-height:12px;color:#1b1b1b;letter-spacing:0.000px;transform:scaleX(0.9800);transform-origin:0 0;">&#x27;</div>
<div class="t" style="left:875.00px;top:442.84px;font-size:12px;line-height:12px;color:#1b1b1b;letter-spacing:-0.251px;transform:scaleX(0.9679);transform-origin:0 0;">SO-0032489</div>
<div class="t" style="left:1063.00px;top:442.84px;font-size:12px;line-height:12px;color:#1b1b1b;letter-spacing:-0.251px;transform:scaleX(0.9679);transform-origin:0 0;">SO-0032489</div>
<div class="t" style="left:1250.00px;top:442.84px;font-size:12px;line-height:12px;color:#1b1b1b;letter-spacing:-0.085px;transform:scaleX(0.9903);transform-origin:0 0;">-24</div>
<div class="t" style="left:1437.00px;top:442.84px;font-size:12px;line-height:12px;color:#1b1b1b;letter-spacing:0.331px;transform:scaleX(1.0000);transform-origin:0 0;">-1</div>
<div class="t" style="left:1627.80px;top:442.84px;font-size:12px;line-height:12px;color:#1b1b1b;letter-spacing:-0.153px;transform:scaleX(0.9800);transform-origin:0 0;">$0.00</div>
<div class="t" style="left:1714.00px;top:442.84px;font-size:12px;line-height:12px;color:#1b1b1b;letter-spacing:-0.076px;transform:scaleX(0.9871);transform-origin:0 0;">Spring Valley</div>
<div style="left:285px;top:466px;width:14px;height:14px;border:2px solid #005e9b;border-radius:2.5px;"></div>
<div class="t" style="left:314.00px;top:468.84px;font-size:12px;line-height:12px;color:#1b1b1b;letter-spacing:-0.191px;transform:scaleX(0.9722);transform-origin:0 0;">02/03/2023</div>
<div class="t" style="left:502.00px;top:468.84px;font-size:12px;line-height:12px;color:#1b1b1b;letter-spacing:0.000px;transform:scaleX(0.9800);transform-origin:0 0;">&#x27;</div>
<div class="t" style="left:875.00px;top:468.84px;font-size:12px;line-height:12px;color:#1b1b1b;letter-spacing:-0.251px;transform:scaleX(0.9679);transform-origin:0 0;">CR-0000791</div>
<div class="t" style="left:1250.00px;top:468.84px;font-size:12px;line-height:12px;color:#1b1b1b;letter-spacing:-0.085px;transform:scaleX(0.9903);transform-origin:0 0;">-25</div>
<div class="t" style="left:1437.00px;top:468.84px;font-size:12px;line-height:12px;color:#1b1b1b;letter-spacing:0.000px;transform:scaleX(0.9500);transform-origin:0 0;">1</div>
<div class="t" style="left:1627.80px;top:468.84px;font-size:12px;line-height:12px;color:#1b1b1b;letter-spacing:-0.153px;transform:scaleX(0.9800);transform-origin:0 0;">$0.00</div>
<div class="t" style="left:1714.00px;top:468.84px;font-size:12px;line-height:12px;color:#1b1b1b;letter-spacing:-0.076px;transform:scaleX(0.9871);transform-origin:0 0;">Spring Valley</div>
<div style="left:285px;top:492px;width:14px;height:14px;border:2px solid #005e9b;border-radius:2.5px;"></div>
<div class="t" style="left:314.00px;top:494.84px;font-size:12px;line-height:12px;color:#1b1b1b;letter-spacing:-0.191px;transform:scaleX(0.9722);transform-origin:0 0;">10/20/2022</div>
<div class="t" style="left:504.60px;top:494.84px;font-size:12px;line-height:12px;color:#1b1b1b;letter-spacing:-0.126px;transform:scaleX(0.9787);transform-origin:0 0;">hel item 1</div>
<div class="t" style="left:875.00px;top:494.84px;font-size:12px;line-height:12px;color:#1b1b1b;letter-spacing:-0.144px;transform:scaleX(0.9795);transform-origin:0 0;">Adj-747</div>
<div class="t" style="left:1063.00px;top:494.84px;font-size:12px;line-height:12px;color:#1b1b1b;letter-spacing:-0.251px;transform:scaleX(0.9679);transform-origin:0 0;">SO-0030073</div>
<div class="t" style="left:1250.00px;top:494.84px;font-size:12px;line-height:12px;color:#1b1b1b;letter-spacing:0.000px;transform:scaleX(0.9500);transform-origin:0 0;">0</div>
<div class="t" style="left:1437.00px;top:494.84px;font-size:12px;line-height:12px;color:#1b1b1b;letter-spacing:-0.703px;transform:scaleX(0.9500);transform-origin:0 0;">10</div>
<div class="t" style="left:1627.80px;top:494.84px;font-size:12px;line-height:12px;color:#1b1b1b;letter-spacing:-0.192px;transform:scaleX(0.9745);transform-origin:0 0;">$10.00</div>
<div class="t" style="left:1714.00px;top:494.84px;font-size:12px;line-height:12px;color:#1b1b1b;letter-spacing:-0.076px;transform:scaleX(0.9871);transform-origin:0 0;">Spring Valley</div>
<div style="left:285px;top:518px;width:14px;height:14px;border:2px solid #005e9b;border-radius:2.5px;"></div>
<div class="t" style="left:314.00px;top:520.84px;font-size:12px;line-height:12px;color:#1b1b1b;letter-spacing:-0.191px;transform:scaleX(0.9722);transform-origin:0 0;">10/20/2022</div>
<div class="t" style="left:504.60px;top:520.84px;font-size:12px;line-height:12px;color:#1b1b1b;letter-spacing:-0.126px;transform:scaleX(0.9787);transform-origin:0 0;">hel item 1</div>
<div class="t" style="left:875.00px;top:520.84px;font-size:12px;line-height:12px;color:#1b1b1b;letter-spacing:-0.144px;transform:scaleX(0.9795);transform-origin:0 0;">Adj-748</div>
<div class="t" style="left:1063.00px;top:520.84px;font-size:12px;line-height:12px;color:#1b1b1b;letter-spacing:-0.251px;transform:scaleX(0.9679);transform-origin:0 0;">SO-0030091</div>
<div class="t" style="left:1250.00px;top:520.84px;font-size:12px;line-height:12px;color:#1b1b1b;letter-spacing:-0.703px;transform:scaleX(0.9500);transform-origin:0 0;">10</div>
<div class="t" style="left:1437.00px;top:520.84px;font-size:12px;line-height:12px;color:#1b1b1b;letter-spacing:-0.703px;transform:scaleX(0.9500);transform-origin:0 0;">20</div>
<div class="t" style="left:1627.80px;top:520.84px;font-size:12px;line-height:12px;color:#1b1b1b;letter-spacing:-0.192px;transform:scaleX(0.9745);transform-origin:0 0;">$10.00</div>
<div class="t" style="left:1714.00px;top:520.84px;font-size:12px;line-height:12px;color:#1b1b1b;letter-spacing:-0.076px;transform:scaleX(0.9871);transform-origin:0 0;">Spring Valley</div>
<div style="left:285px;top:544px;width:14px;height:14px;border:2px solid #005e9b;border-radius:2.5px;"></div>
<div class="t" style="left:314.00px;top:546.84px;font-size:12px;line-height:12px;color:#1b1b1b;letter-spacing:-0.191px;transform:scaleX(0.9722);transform-origin:0 0;">10/21/2022</div>
<div class="t" style="left:504.60px;top:546.84px;font-size:12px;line-height:12px;color:#1b1b1b;letter-spacing:-0.126px;transform:scaleX(0.9787);transform-origin:0 0;">hel item 1</div>
<div class="t" style="left:875.00px;top:546.84px;font-size:12px;line-height:12px;color:#1b1b1b;letter-spacing:-0.144px;transform:scaleX(0.9795);transform-origin:0 0;">Adj-748</div>
<div class="t" style="left:1063.00px;top:546.84px;font-size:12px;line-height:12px;color:#1b1b1b;letter-spacing:-0.251px;transform:scaleX(0.9679);transform-origin:0 0;">SO-0030091</div>
<div class="t" style="left:1250.00px;top:546.84px;font-size:12px;line-height:12px;color:#1b1b1b;letter-spacing:-0.703px;transform:scaleX(0.9500);transform-origin:0 0;">30</div>
<div class="t" style="left:1437.00px;top:546.84px;font-size:12px;line-height:12px;color:#1b1b1b;letter-spacing:0.331px;transform:scaleX(1.0000);transform-origin:0 0;">-4</div>
<div class="t" style="left:1627.80px;top:546.84px;font-size:12px;line-height:12px;color:#1b1b1b;letter-spacing:-0.192px;transform:scaleX(0.9745);transform-origin:0 0;">$10.00</div>
<div class="t" style="left:1714.00px;top:546.84px;font-size:12px;line-height:12px;color:#1b1b1b;letter-spacing:-0.076px;transform:scaleX(0.9871);transform-origin:0 0;">Spring Valley</div>
<div style="left:285px;top:570px;width:14px;height:14px;border:2px solid #005e9b;border-radius:2.5px;"></div>
<div class="t" style="left:314.00px;top:572.84px;font-size:12px;line-height:12px;color:#1b1b1b;letter-spacing:-0.191px;transform:scaleX(0.9722);transform-origin:0 0;">10/21/2022</div>
<div class="t" style="left:504.60px;top:572.84px;font-size:12px;line-height:12px;color:#1b1b1b;letter-spacing:-0.126px;transform:scaleX(0.9787);transform-origin:0 0;">hel item 1</div>
<div class="t" style="left:875.00px;top:572.84px;font-size:12px;line-height:12px;color:#1b1b1b;letter-spacing:-0.144px;transform:scaleX(0.9795);transform-origin:0 0;">Adj-753</div>
<div class="t" style="left:1063.00px;top:572.84px;font-size:12px;line-height:12px;color:#1b1b1b;letter-spacing:-0.251px;transform:scaleX(0.9679);transform-origin:0 0;">SO-0030091</div>
<div class="t" style="left:1250.00px;top:572.84px;font-size:12px;line-height:12px;color:#1b1b1b;letter-spacing:-0.703px;transform:scaleX(0.9500);transform-origin:0 0;">26</div>
<div class="t" style="left:1437.00px;top:572.84px;font-size:12px;line-height:12px;color:#1b1b1b;letter-spacing:0.331px;transform:scaleX(1.0000);transform-origin:0 0;">-2</div>
<div class="t" style="left:1627.80px;top:572.84px;font-size:12px;line-height:12px;color:#1b1b1b;letter-spacing:-0.192px;transform:scaleX(0.9745);transform-origin:0 0;">$10.00</div>
<div class="t" style="left:1714.00px;top:572.84px;font-size:12px;line-height:12px;color:#1b1b1b;letter-spacing:-0.076px;transform:scaleX(0.9871);transform-origin:0 0;">Spring Valley</div>
<div style="left:285px;top:596px;width:14px;height:14px;border:2px solid #005e9b;border-radius:2.5px;"></div>
<div class="t" style="left:314.00px;top:598.84px;font-size:12px;line-height:12px;color:#1b1b1b;letter-spacing:-0.191px;transform:scaleX(0.9722);transform-origin:0 0;">10/26/2022</div>
<div class="t" style="left:504.60px;top:598.84px;font-size:12px;line-height:12px;color:#1b1b1b;letter-spacing:-0.126px;transform:scaleX(0.9787);transform-origin:0 0;">hel item 1</div>
<div class="t" style="left:875.00px;top:598.84px;font-size:12px;line-height:12px;color:#1b1b1b;letter-spacing:-0.144px;transform:scaleX(0.9795);transform-origin:0 0;">Adj-753</div>
<div class="t" style="left:1063.00px;top:598.84px;font-size:12px;line-height:12px;color:#1b1b1b;letter-spacing:-0.251px;transform:scaleX(0.9679);transform-origin:0 0;">SO-0030233</div>
<div class="t" style="left:1250.00px;top:598.84px;font-size:12px;line-height:12px;color:#1b1b1b;letter-spacing:-0.703px;transform:scaleX(0.9500);transform-origin:0 0;">24</div>
<div class="t" style="left:1437.00px;top:598.84px;font-size:12px;line-height:12px;color:#1b1b1b;letter-spacing:-0.703px;transform:scaleX(0.9500);transform-origin:0 0;">20</div>
<div class="t" style="left:1627.80px;top:598.84px;font-size:12px;line-height:12px;color:#1b1b1b;letter-spacing:-0.192px;transform:scaleX(0.9745);transform-origin:0 0;">$10.00</div>
<div class="t" style="left:1714.00px;top:598.84px;font-size:12px;line-height:12px;color:#1b1b1b;letter-spacing:-0.076px;transform:scaleX(0.9871);transform-origin:0 0;">Spring Valley</div>
<div style="left:285px;top:622px;width:14px;height:14px;border:2px solid #005e9b;border-radius:2.5px;"></div>
<div class="t" style="left:314.00px;top:624.84px;font-size:12px;line-height:12px;color:#1b1b1b;letter-spacing:-0.191px;transform:scaleX(0.9722);transform-origin:0 0;">10/28/2022</div>
<div class="t" style="left:504.60px;top:624.84px;font-size:12px;line-height:12px;color:#1b1b1b;letter-spacing:-0.126px;transform:scaleX(0.9787);transform-origin:0 0;">hel item 1</div>
<div class="t" style="left:875.00px;top:624.84px;font-size:12px;line-height:12px;color:#1b1b1b;letter-spacing:-0.144px;transform:scaleX(0.9795);transform-origin:0 0;">Adj-753</div>
<div class="t" style="left:1063.00px;top:624.84px;font-size:12px;line-height:12px;color:#1b1b1b;letter-spacing:-0.251px;transform:scaleX(0.9679);transform-origin:0 0;">SO-0030163</div>
<div class="t" style="left:1250.00px;top:624.84px;font-size:12px;line-height:12px;color:#1b1b1b;letter-spacing:-0.703px;transform:scaleX(0.9500);transform-origin:0 0;">44</div>
<div class="t" style="left:1437.00px;top:624.84px;font-size:12px;line-height:12px;color:#1b1b1b;letter-spacing:0.331px;transform:scaleX(1.0000);transform-origin:0 0;">-1</div>
<div class="t" style="left:1627.80px;top:624.84px;font-size:12px;line-height:12px;color:#1b1b1b;letter-spacing:-0.192px;transform:scaleX(0.9745);transform-origin:0 0;">$10.00</div>
<div class="t" style="left:1714.00px;top:624.84px;font-size:12px;line-height:12px;color:#1b1b1b;letter-spacing:-0.076px;transform:scaleX(0.9871);transform-origin:0 0;">Spring Valley</div>
<div style="left:285px;top:648px;width:14px;height:14px;border:2px solid #005e9b;border-radius:2.5px;"></div>
<div class="t" style="left:314.00px;top:650.84px;font-size:12px;line-height:12px;color:#1b1b1b;letter-spacing:-0.191px;transform:scaleX(0.9722);transform-origin:0 0;">10/31/2022</div>
<div class="t" style="left:504.60px;top:650.84px;font-size:12px;line-height:12px;color:#1b1b1b;letter-spacing:-0.126px;transform:scaleX(0.9787);transform-origin:0 0;">hel item 1</div>
<div class="t" style="left:875.00px;top:650.84px;font-size:12px;line-height:12px;color:#1b1b1b;letter-spacing:-0.232px;transform:scaleX(0.9685);transform-origin:0 0;">IRC-0013541</div>
<div class="t" style="left:1063.00px;top:650.84px;font-size:12px;line-height:12px;color:#1b1b1b;letter-spacing:-0.251px;transform:scaleX(0.9679);transform-origin:0 0;">SO-0030248</div>
<div class="t" style="left:1250.00px;top:650.84px;font-size:12px;line-height:12px;color:#1b1b1b;letter-spacing:-0.703px;transform:scaleX(0.9500);transform-origin:0 0;">43</div>
<div class="t" style="left:1437.00px;top:650.84px;font-size:12px;line-height:12px;color:#1b1b1b;letter-spacing:-0.703px;transform:scaleX(0.9500);transform-origin:0 0;">20</div>
<div class="t" style="left:1627.80px;top:650.84px;font-size:12px;line-height:12px;color:#1b1b1b;letter-spacing:-0.192px;transform:scaleX(0.9745);transform-origin:0 0;">$20.00</div>
<div class="t" style="left:1714.00px;top:650.84px;font-size:12px;line-height:12px;color:#1b1b1b;letter-spacing:-0.076px;transform:scaleX(0.9871);transform-origin:0 0;">Spring Valley</div>
<div style="left:285px;top:674px;width:14px;height:14px;border:2px solid #005e9b;border-radius:2.5px;"></div>
<div class="t" style="left:314.00px;top:676.84px;font-size:12px;line-height:12px;color:#1b1b1b;letter-spacing:-0.191px;transform:scaleX(0.9722);transform-origin:0 0;">10/31/2022</div>
<div class="t" style="left:504.60px;top:676.84px;font-size:12px;line-height:12px;color:#1b1b1b;letter-spacing:-0.126px;transform:scaleX(0.9787);transform-origin:0 0;">hel item 1</div>
<div class="t" style="left:875.00px;top:676.84px;font-size:12px;line-height:12px;color:#1b1b1b;letter-spacing:-0.185px;transform:scaleX(0.9744);transform-origin:0 0;">IRC-0011368</div>
<div class="t" style="left:1063.00px;top:676.84px;font-size:12px;line-height:12px;color:#1b1b1b;letter-spacing:-0.251px;transform:scaleX(0.9679);transform-origin:0 0;">SO-0030248</div>
<div class="t" style="left:1250.00px;top:676.84px;font-size:12px;line-height:12px;color:#1b1b1b;letter-spacing:-0.703px;transform:scaleX(0.9500);transform-origin:0 0;">63</div>
<div class="t" style="left:1437.00px;top:676.84px;font-size:12px;line-height:12px;color:#1b1b1b;letter-spacing:-0.703px;transform:scaleX(0.9500);transform-origin:0 0;">20</div>
<div class="t" style="left:1627.80px;top:676.84px;font-size:12px;line-height:12px;color:#1b1b1b;letter-spacing:-0.192px;transform:scaleX(0.9745);transform-origin:0 0;">$20.00</div>
<div class="t" style="left:1714.00px;top:676.84px;font-size:12px;line-height:12px;color:#1b1b1b;letter-spacing:-0.076px;transform:scaleX(0.9871);transform-origin:0 0;">Spring Valley</div>
<div style="left:285px;top:700px;width:14px;height:14px;border:2px solid #005e9b;border-radius:2.5px;"></div>
<div class="t" style="left:314.00px;top:702.84px;font-size:12px;line-height:12px;color:#1b1b1b;letter-spacing:-0.191px;transform:scaleX(0.9722);transform-origin:0 0;">10/31/2022</div>
<div class="t" style="left:504.60px;top:702.84px;font-size:12px;line-height:12px;color:#1b1b1b;letter-spacing:-0.126px;transform:scaleX(0.9787);transform-origin:0 0;">hel item 1</div>
<div class="t" style="left:875.00px;top:702.84px;font-size:12px;line-height:12px;color:#1b1b1b;letter-spacing:-0.144px;transform:scaleX(0.9795);transform-origin:0 0;">Adj-753</div>
<div class="t" style="left:1063.00px;top:702.84px;font-size:12px;line-height:12px;color:#1b1b1b;letter-spacing:-0.251px;transform:scaleX(0.9679);transform-origin:0 0;">SO-0030233</div>
<div class="t" style="left:1250.00px;top:702.84px;font-size:12px;line-height:12px;color:#1b1b1b;letter-spacing:-0.703px;transform:scaleX(0.9500);transform-origin:0 0;">83</div>
<div class="t" style="left:1437.00px;top:702.84px;font-size:12px;line-height:12px;color:#1b1b1b;letter-spacing:-0.085px;transform:scaleX(0.9903);transform-origin:0 0;">-10</div>
<div class="t" style="left:1627.80px;top:702.84px;font-size:12px;line-height:12px;color:#1b1b1b;letter-spacing:-0.192px;transform:scaleX(0.9745);transform-origin:0 0;">$10.00</div>
<div class="t" style="left:1714.00px;top:702.84px;font-size:12px;line-height:12px;color:#1b1b1b;letter-spacing:-0.076px;transform:scaleX(0.9871);transform-origin:0 0;">Spring Valley</div>
<div style="left:285px;top:726px;width:14px;height:14px;border:2px solid #005e9b;border-radius:2.5px;"></div>
<div class="t" style="left:314.00px;top:728.84px;font-size:12px;line-height:12px;color:#1b1b1b;letter-spacing:-0.191px;transform:scaleX(0.9722);transform-origin:0 0;">10/31/2022</div>
<div class="t" style="left:504.60px;top:728.84px;font-size:12px;line-height:12px;color:#1b1b1b;letter-spacing:-0.126px;transform:scaleX(0.9787);transform-origin:0 0;">hel item 1</div>
<div class="t" style="left:875.00px;top:728.84px;font-size:12px;line-height:12px;color:#1b1b1b;letter-spacing:-0.185px;transform:scaleX(0.9744);transform-origin:0 0;">IRC-0011368</div>
<div class="t" style="left:1063.00px;top:728.84px;font-size:12px;line-height:12px;color:#1b1b1b;letter-spacing:-0.251px;transform:scaleX(0.9679);transform-origin:0 0;">SO-0030248</div>
<div class="t" style="left:1250.00px;top:728.84px;font-size:12px;line-height:12px;color:#1b1b1b;letter-spacing:-0.703px;transform:scaleX(0.9500);transform-origin:0 0;">73</div>
<div class="t" style="left:1437.00px;top:728.84px;font-size:12px;line-height:12px;color:#1b1b1b;letter-spacing:0.331px;transform:scaleX(1.0000);transform-origin:0 0;">-8</div>
<div class="t" style="left:1627.80px;top:728.84px;font-size:12px;line-height:12px;color:#1b1b1b;letter-spacing:-0.192px;transform:scaleX(0.9745);transform-origin:0 0;">$20.00</div>
<div class="t" style="left:1714.00px;top:728.84px;font-size:12px;line-height:12px;color:#1b1b1b;letter-spacing:-0.076px;transform:scaleX(0.9871);transform-origin:0 0;">Spring Valley</div>
<div style="left:285px;top:752px;width:14px;height:14px;border:2px solid #005e9b;border-radius:2.5px;"></div>
<div class="t" style="left:314.00px;top:754.84px;font-size:12px;line-height:12px;color:#1b1b1b;letter-spacing:-0.191px;transform:scaleX(0.9722);transform-origin:0 0;">10/31/2022</div>
<div class="t" style="left:504.60px;top:754.84px;font-size:12px;line-height:12px;color:#1b1b1b;letter-spacing:-0.126px;transform:scaleX(0.9787);transform-origin:0 0;">hel item 1</div>
<div class="t" style="left:875.00px;top:754.84px;font-size:12px;line-height:12px;color:#1b1b1b;letter-spacing:-0.232px;transform:scaleX(0.9685);transform-origin:0 0;">IRC-0013541</div>
<div class="t" style="left:1063.00px;top:754.84px;font-size:12px;line-height:12px;color:#1b1b1b;letter-spacing:-0.251px;transform:scaleX(0.9679);transform-origin:0 0;">SO-0030248</div>
<div class="t" style="left:1250.00px;top:754.84px;font-size:12px;line-height:12px;color:#1b1b1b;letter-spacing:-0.703px;transform:scaleX(0.9500);transform-origin:0 0;">65</div>
<div class="t" style="left:1437.00px;top:754.84px;font-size:12px;line-height:12px;color:#1b1b1b;letter-spacing:-0.085px;transform:scaleX(0.9903);transform-origin:0 0;">-12</div>
<div class="t" style="left:1627.80px;top:754.84px;font-size:12px;line-height:12px;color:#1b1b1b;letter-spacing:-0.192px;transform:scaleX(0.9745);transform-origin:0 0;">$20.00</div>
<div class="t" style="left:1714.00px;top:754.84px;font-size:12px;line-height:12px;color:#1b1b1b;letter-spacing:-0.076px;transform:scaleX(0.9871);transform-origin:0 0;">Spring Valley</div>
<div style="left:285px;top:778px;width:14px;height:14px;border:2px solid #005e9b;border-radius:2.5px;"></div>
<div class="t" style="left:314.00px;top:780.84px;font-size:12px;line-height:12px;color:#1b1b1b;letter-spacing:-0.139px;transform:scaleX(0.9793);transform-origin:0 0;">11/01/2022</div>
<div class="t" style="left:504.60px;top:780.84px;font-size:12px;line-height:12px;color:#1b1b1b;letter-spacing:-0.126px;transform:scaleX(0.9787);transform-origin:0 0;">hel item 1</div>
<div class="t" style="left:875.00px;top:780.84px;font-size:12px;line-height:12px;color:#1b1b1b;letter-spacing:-0.144px;transform:scaleX(0.9795);transform-origin:0 0;">Adj-777</div>
<div class="t" style="left:1063.00px;top:780.84px;font-size:12px;line-height:12px;color:#1b1b1b;letter-spacing:-0.251px;transform:scaleX(0.9679);transform-origin:0 0;">SO-0030250</div>
<div class="t" style="left:1250.00px;top:780.84px;font-size:12px;line-height:12px;color:#1b1b1b;letter-spacing:-0.703px;transform:scaleX(0.9500);transform-origin:0 0;">53</div>
<div class="t" style="left:1437.00px;top:780.84px;font-size:12px;line-height:12px;color:#1b1b1b;letter-spacing:0.331px;transform:scaleX(1.0000);transform-origin:0 0;">-1</div>
<div class="t" style="left:1627.80px;top:780.84px;font-size:12px;line-height:12px;color:#1b1b1b;letter-spacing:-0.251px;transform:scaleX(0.9659);transform-origin:0 0;">$13.33696</div>
<div class="t" style="left:1714.00px;top:780.84px;font-size:12px;line-height:12px;color:#1b1b1b;letter-spacing:-0.076px;transform:scaleX(0.9871);transform-origin:0 0;">Spring Valley</div>
<div style="left:285px;top:804px;width:14px;height:14px;border:2px solid #005e9b;border-radius:2.5px;"></div>
<div class="t" style="left:314.00px;top:806.84px;font-size:12px;line-height:12px;color:#1b1b1b;letter-spacing:-0.139px;transform:scaleX(0.9793);transform-origin:0 0;">11/07/2022</div>
<div class="t" style="left:504.60px;top:806.84px;font-size:12px;line-height:12px;color:#1b1b1b;letter-spacing:-0.126px;transform:scaleX(0.9787);transform-origin:0 0;">hel item 1</div>
<div class="t" style="left:875.00px;top:806.84px;font-size:12px;line-height:12px;color:#1b1b1b;letter-spacing:-0.144px;transform:scaleX(0.9795);transform-origin:0 0;">Adj-771</div>
<div class="t" style="left:1063.00px;top:806.84px;font-size:12px;line-height:12px;color:#1b1b1b;letter-spacing:-0.236px;transform:scaleX(0.9693);transform-origin:0 0;">TO-0000088</div>
<div class="t" style="left:1250.00px;top:806.84px;font-size:12px;line-height:12px;color:#1b1b1b;letter-spacing:-0.703px;transform:scaleX(0.9500);transform-origin:0 0;">52</div>
<div class="t" style="left:1437.00px;top:806.84px;font-size:12px;line-height:12px;color:#1b1b1b;letter-spacing:-0.703px;transform:scaleX(0.9500);transform-origin:0 0;">20</div>
<div class="t" style="left:1627.80px;top:806.84px;font-size:12px;line-height:12px;color:#1b1b1b;letter-spacing:-0.251px;transform:scaleX(0.9659);transform-origin:0 0;">$14.34783</div>
<div class="t" style="left:1714.00px;top:806.84px;font-size:12px;line-height:12px;color:#1b1b1b;letter-spacing:-0.180px;transform:scaleX(0.9800);transform-origin:0 0;">Amazon</div>
<div style="left:285px;top:830px;width:14px;height:14px;border:2px solid #005e9b;border-radius:2.5px;"></div>
<div class="t" style="left:314.00px;top:832.84px;font-size:12px;line-height:12px;color:#1b1b1b;letter-spacing:-0.139px;transform:scaleX(0.9793);transform-origin:0 0;">11/07/2022</div>
<div class="t" style="left:504.60px;top:832.84px;font-size:12px;line-height:12px;color:#1b1b1b;letter-spacing:-0.126px;transform:scaleX(0.9787);transform-origin:0 0;">hel item 1</div>
<div class="t" style="left:875.00px;top:832.84px;font-size:12px;line-height:12px;color:#1b1b1b;letter-spacing:-0.251px;transform:scaleX(0.9679);transform-origin:0 0;">CR-0000691</div>
<div class="t" style="left:1063.00px;top:832.84px;font-size:12px;line-height:12px;color:#1b1b1b;letter-spacing:-0.251px;transform:scaleX(0.9679);transform-origin:0 0;">SO-0030447</div>
<div class="t" style="left:1250.00px;top:832.84px;font-size:12px;line-height:12px;color:#1b1b1b;letter-spacing:-0.703px;transform:scaleX(0.9500);transform-origin:0 0;">72</div>
<div class="t" style="left:1437.00px;top:832.84px;font-size:12px;line-height:12px;color:#1b1b1b;letter-spacing:0.000px;transform:scaleX(0.9500);transform-origin:0 0;">1</div>
<div class="t" style="left:1627.80px;top:832.84px;font-size:12px;line-height:12px;color:#1b1b1b;letter-spacing:-0.251px;transform:scaleX(0.9659);transform-origin:0 0;">$13.33696</div>
<div class="t" style="left:1714.00px;top:832.84px;font-size:12px;line-height:12px;color:#1b1b1b;letter-spacing:-0.076px;transform:scaleX(0.9871);transform-origin:0 0;">Spring Valley</div>
<div style="left:285px;top:856px;width:14px;height:14px;border:2px solid #005e9b;border-radius:2.5px;"></div>
<div class="t" style="left:314.00px;top:858.84px;font-size:12px;line-height:12px;color:#1b1b1b;letter-spacing:-0.139px;transform:scaleX(0.9793);transform-origin:0 0;">11/07/2022</div>
<div class="t" style="left:504.60px;top:858.84px;font-size:12px;line-height:12px;color:#1b1b1b;letter-spacing:-0.126px;transform:scaleX(0.9787);transform-origin:0 0;">hel item 1</div>
<div class="t" style="left:875.00px;top:858.84px;font-size:12px;line-height:12px;color:#1b1b1b;letter-spacing:-0.232px;transform:scaleX(0.9685);transform-origin:0 0;">IRC-0013578</div>
<div class="t" style="left:1063.00px;top:858.84px;font-size:12px;line-height:12px;color:#1b1b1b;letter-spacing:-0.247px;transform:scaleX(0.9648);transform-origin:0 0;">I-0030665</div>
<div class="t" style="left:1250.00px;top:858.84px;font-size:12px;line-height:12px;color:#1b1b1b;letter-spacing:-0.703px;transform:scaleX(0.9500);transform-origin:0 0;">73</div>
<div class="t" style="left:1437.00px;top:858.84px;font-size:12px;line-height:12px;color:#1b1b1b;letter-spacing:-0.085px;transform:scaleX(0.9903);transform-origin:0 0;">-10</div>
<div class="t" style="left:1627.80px;top:858.84px;font-size:12px;line-height:12px;color:#1b1b1b;letter-spacing:-0.192px;transform:scaleX(0.9745);transform-origin:0 0;">$20.00</div>
<div class="t" style="left:1714.00px;top:858.84px;font-size:12px;line-height:12px;color:#1b1b1b;letter-spacing:-0.076px;transform:scaleX(0.9871);transform-origin:0 0;">Spring Valley</div>
<div style="left:285px;top:882px;width:14px;height:14px;border:2px solid #005e9b;border-radius:2.5px;"></div>
<div class="t" style="left:314.00px;top:884.84px;font-size:12px;line-height:12px;color:#1b1b1b;letter-spacing:-0.139px;transform:scaleX(0.9793);transform-origin:0 0;">11/08/2022</div>
<div class="t" style="left:504.60px;top:884.84px;font-size:12px;line-height:12px;color:#1b1b1b;letter-spacing:-0.126px;transform:scaleX(0.9787);transform-origin:0 0;">hel item 1</div>
<div class="t" style="left:875.00px;top:884.84px;font-size:12px;line-height:12px;color:#1b1b1b;letter-spacing:-0.144px;transform:scaleX(0.9795);transform-origin:0 0;">Adj-777</div>
<div class="t" style="left:1063.00px;top:884.84px;font-size:12px;line-height:12px;color:#1b1b1b;letter-spacing:-0.251px;transform:scaleX(0.9679);transform-origin:0 0;">SO-0030462</div>
<div class="t" style="left:1250.00px;top:884.84px;font-size:12px;line-height:12px;color:#1b1b1b;letter-spacing:-0.703px;transform:scaleX(0.9500);transform-origin:0 0;">63</div>
<div class="t" style="left:1437.00px;top:884.84px;font-size:12px;line-height:12px;color:#1b1b1b;letter-spacing:-0.703px;transform:scaleX(0.9500);transform-origin:0 0;">10</div>
<div class="t" style="left:1627.80px;top:884.84px;font-size:12px;line-height:12px;color:#1b1b1b;letter-spacing:-0.251px;transform:scaleX(0.9659);transform-origin:0 0;">$13.33696</div>
<div class="t" style="left:1714.00px;top:884.84px;font-size:12px;line-height:12px;color:#1b1b1b;letter-spacing:-0.076px;transform:scaleX(0.9871);transform-origin:0 0;">Spring Valley</div>
<div style="left:285px;top:908px;width:14px;height:14px;border:2px solid #005e9b;border-radius:2.5px;"></div>
<div class="t" style="left:314.00px;top:910.84px;font-size:12px;line-height:12px;color:#1b1b1b;letter-spacing:-0.139px;transform:scaleX(0.9793);transform-origin:0 0;">11/08/2022</div>
<div class="t" style="left:504.60px;top:910.84px;font-size:12px;line-height:12px;color:#1b1b1b;letter-spacing:-0.126px;transform:scaleX(0.9787);transform-origin:0 0;">hel item 1</div>
<div class="t" style="left:875.00px;top:910.84px;font-size:12px;line-height:12px;color:#1b1b1b;letter-spacing:-0.144px;transform:scaleX(0.9795);transform-origin:0 0;">Adj-778</div>
<div class="t" style="left:1250.00px;top:910.84px;font-size:12px;line-height:12px;color:#1b1b1b;letter-spacing:-0.703px;transform:scaleX(0.9500);transform-origin:0 0;">73</div>
<div class="t" style="left:1437.00px;top:910.84px;font-size:12px;line-height:12px;color:#1b1b1b;letter-spacing:-0.703px;transform:scaleX(0.9500);transform-origin:0 0;">20</div>
<div class="t" style="left:1627.80px;top:910.84px;font-size:12px;line-height:12px;color:#1b1b1b;letter-spacing:-0.251px;transform:scaleX(0.9659);transform-origin:0 0;">$13.47022</div>
<div class="t" style="left:1714.00px;top:910.84px;font-size:12px;line-height:12px;color:#1b1b1b;letter-spacing:-0.076px;transform:scaleX(0.9871);transform-origin:0 0;">Spring Valley</div>
<div style="left:285px;top:934px;width:14px;height:14px;border:2px solid #005e9b;border-radius:2.5px;"></div>
<div class="t" style="left:314.00px;top:936.84px;font-size:12px;line-height:12px;color:#1b1b1b;letter-spacing:-0.139px;transform:scaleX(0.9793);transform-origin:0 0;">11/09/2022</div>
<div class="t" style="left:504.60px;top:936.84px;font-size:12px;line-height:12px;color:#1b1b1b;letter-spacing:-0.126px;transform:scaleX(0.9787);transform-origin:0 0;">hel item 1</div>
<div class="t" style="left:875.00px;top:936.84px;font-size:12px;line-height:12px;color:#1b1b1b;letter-spacing:-0.251px;transform:scaleX(0.9679);transform-origin:0 0;">CR-0000691</div>
<div class="t" style="left:1063.00px;top:936.84px;font-size:12px;line-height:12px;color:#1b1b1b;letter-spacing:-0.251px;transform:scaleX(0.9679);transform-origin:0 0;">SO-0030447</div>
<div class="t" style="left:1250.00px;top:936.84px;font-size:12px;line-height:12px;color:#1b1b1b;letter-spacing:-0.703px;transform:scaleX(0.9500);transform-origin:0 0;">93</div>
<div class="t" style="left:1437.00px;top:936.84px;font-size:12px;line-height:12px;color:#1b1b1b;letter-spacing:0.331px;transform:scaleX(1.0000);transform-origin:0 0;">-1</div>
<div class="t" style="left:1627.80px;top:936.84px;font-size:12px;line-height:12px;color:#1b1b1b;letter-spacing:-0.251px;transform:scaleX(0.9659);transform-origin:0 0;">$13.33696</div>
<div class="t" style="left:1714.00px;top:936.84px;font-size:12px;line-height:12px;color:#1b1b1b;letter-spacing:-0.076px;transform:scaleX(0.9871);transform-origin:0 0;">Spring Valley</div>
<div style="left:285px;top:960px;width:14px;height:14px;border:2px solid #005e9b;border-radius:2.5px;"></div>
<div class="t" style="left:314.00px;top:962.84px;font-size:12px;line-height:12px;color:#1b1b1b;letter-spacing:-0.139px;transform:scaleX(0.9793);transform-origin:0 0;">11/10/2022</div>
<div class="t" style="left:504.60px;top:962.84px;font-size:12px;line-height:12px;color:#1b1b1b;letter-spacing:-0.126px;transform:scaleX(0.9787);transform-origin:0 0;">hel item 1</div>
<div class="t" style="left:875.00px;top:962.84px;font-size:12px;line-height:12px;color:#1b1b1b;letter-spacing:-0.144px;transform:scaleX(0.9795);transform-origin:0 0;">Adj-791</div>
<div class="t" style="left:1063.00px;top:962.84px;font-size:12px;line-height:12px;color:#1b1b1b;letter-spacing:-0.198px;transform:scaleX(0.9741);transform-origin:0 0;">SO-0030511</div>
<div class="t" style="left:1250.00px;top:962.84px;font-size:12px;line-height:12px;color:#1b1b1b;letter-spacing:-0.703px;transform:scaleX(0.9500);transform-origin:0 0;">92</div>
<div class="t" style="left:1437.00px;top:962.84px;font-size:12px;line-height:12px;color:#1b1b1b;letter-spacing:0.000px;transform:scaleX(0.9500);transform-origin:0 0;">7</div>
<div class="t" style="left:1627.80px;top:962.84px;font-size:12px;line-height:12px;color:#1b1b1b;letter-spacing:-0.251px;transform:scaleX(0.9659);transform-origin:0 0;">$13.47022</div>
<div class="t" style="left:1714.00px;top:962.84px;font-size:12px;line-height:12px;color:#1b1b1b;letter-spacing:-0.124px;transform:scaleX(0.9810);transform-origin:0 0;">Razer Store</div>
<div style="left:1900px;top:241px;width:7px;height:404px;background:#d4d4d4;"></div>
<svg style="position:absolute;left:1899px;top:230px;" width="9" height="6" viewBox="0 0 9 6"><path d="M0.5 5.5 L4.5 1 L8.5 5.5" fill="none" stroke="#e0e0e0" stroke-width="1"/></svg>
<svg style="position:absolute;left:1899px;top:968px;" width="9" height="6" viewBox="0 0 9 6"><path d="M0.5 0.5 L4.5 5 L8.5 0.5" fill="none" stroke="#e0e0e0" stroke-width="1"/></svg>
<svg style="position:absolute;left:284px;top:983px;" width="6" height="9" viewBox="0 0 6 9"><path d="M5.5 0.5 L1 4.5 L5.5 8.5" fill="none" stroke="#ececec" stroke-width="1"/></svg>
<svg style="position:absolute;left:1885px;top:983px;" width="6" height="9" viewBox="0 0 6 9"><path d="M0.5 0.5 L5 4.5 L0.5 8.5" fill="none" stroke="#ececec" stroke-width="1"/></svg>
</body></html>
